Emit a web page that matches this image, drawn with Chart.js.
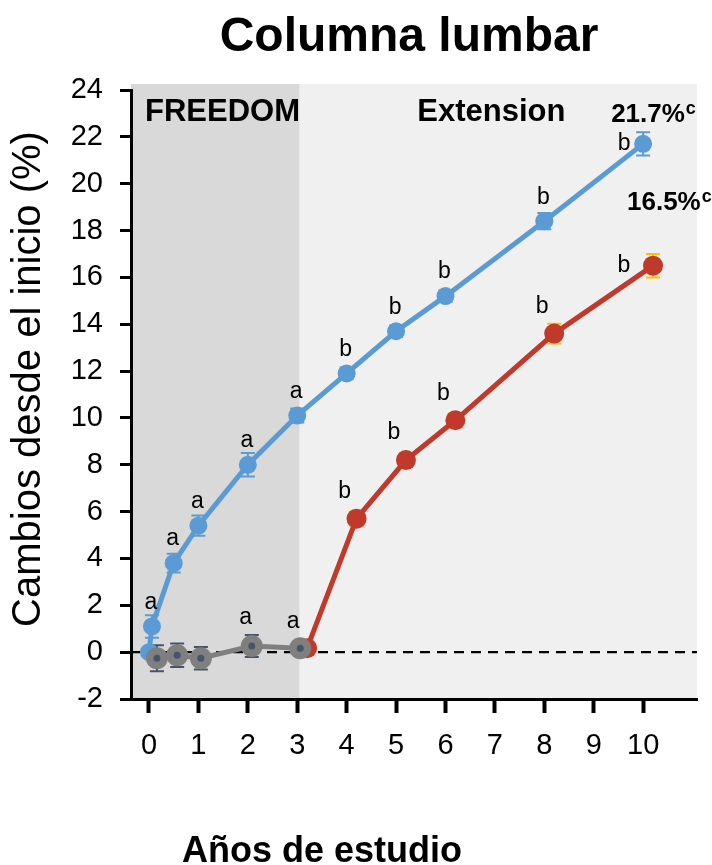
<!DOCTYPE html>
<html>
<head>
<meta charset="utf-8">
<script src="https://cdn.jsdelivr.net/npm/chart.js@4"></script>
<style>
  html, body { margin: 0; padding: 0; background: #fff; }
  #wrap { width: 712px; height: 865px; position: relative; }
</style>
</head>
<body>
<div id="wrap"><canvas id="chart"></canvas></div>
<script>
// Axis ticks
const yearTicks = [0, 1, 2, 3, 4, 5, 6, 7, 8, 9, 10];
const pctTicks = [-2, 0, 2, 4, 6, 8, 10, 12, 14, 16, 18, 20, 22, 24];

// Long-term denosumab (FREEDOM + Extension)
const longTermX = [0, 0.06, 0.5, 1, 2, 3, 4, 5, 6, 8, 10];
const longTermY = [0, 1.1, 3.8, 5.4, 8.0, 10.1, 11.9, 13.7, 15.2, 18.4, 21.7];
const longTermErr = [0, 0.48, 0.4, 0.43, 0.5, 0.3, 0.25, 0.25, 0.25, 0.35, 0.5];
const longTermLetters = ['', 'a', 'a', 'a', 'a', 'a', 'b', 'b', 'b', 'b', 'b'];

// Crossover group (starts at the Extension)
const crossoverX = [3.2, 4.2, 5.2, 6.2, 8.2, 10.2];
const crossoverY = [0.17, 5.7, 8.2, 9.9, 13.6, 16.5];
const crossoverErr = [0.1, 0.3, 0.3, 0.3, 0.42, 0.5];
const crossoverLetters = ['', 'b', 'b', 'b', 'b', 'b'];

// Placebo during FREEDOM
const placeboX = [0.16, 0.57, 1.05, 2.08, 3.06];
const placeboY = [-0.26, -0.13, -0.26, 0.26, 0.17];
const placeboErr = [0.55, 0.5, 0.48, 0.47, 0.1];
const placeboLetters = ['', '', '', 'a', 'a'];

const freedomEnd = 3.05;

const FONT = "'Liberation Sans', Arial, sans-serif";
const BLUE = '#5b9bd5', RED = '#c0392b', GREY = '#7f7f7f';

const pts = (xs, ys) => xs.map((x, i) => ({ x, y: ys[i] }));

const series = [
  { xs: placeboX, ys: placeboY, err: placeboErr, letters: placeboLetters, errColor: '#44546a', dx: -6, dy: -28, lastDx: -7, lastDy: -27 },
  { xs: longTermX, ys: longTermY, err: longTermErr, letters: longTermLetters, errColor: BLUE, dx: -1, dy: -24, lastDx: -19, lastDy: 0 },
  { xs: crossoverX, ys: crossoverY, err: crossoverErr, letters: crossoverLetters, errColor: '#ffc000', dx: -12, dy: -27, lastDx: -29, lastDy: 0 }
];

const decor = {
  id: 'decor',
  beforeDraw(chart) {
    const { ctx, chartArea: a, scales: { x } } = chart;
    const xb = x.getPixelForValue(freedomEnd);
    ctx.save();
    ctx.fillStyle = '#d9d9d9';
    ctx.fillRect(a.left, a.top - 6, xb - a.left, a.bottom - a.top + 6);
    ctx.fillStyle = '#f0f0f0';
    ctx.fillRect(xb, a.top - 6, a.right - xb, a.bottom - a.top + 6);
    ctx.restore();
  },
  beforeDatasetsDraw(chart) {
    const { ctx, chartArea: a, scales: { x, y } } = chart;
    ctx.save();
    // zero reference line
    const y0 = y.getPixelForValue(0);
    ctx.strokeStyle = '#000';
    ctx.lineWidth = 2.2;
    ctx.setLineDash([10, 7]);
    ctx.beginPath();
    ctx.moveTo(a.left, y0);
    ctx.lineTo(a.right, y0);
    ctx.stroke();
    ctx.setLineDash([]);
    // error bars
    series.forEach(s => {
      ctx.strokeStyle = s.errColor;
      ctx.lineWidth = 2;
      s.xs.forEach((xv, i) => {
        if (!s.err[i]) return;
        const px = x.getPixelForValue(xv);
        const top = y.getPixelForValue(s.ys[i] + s.err[i]);
        const bot = y.getPixelForValue(s.ys[i] - s.err[i]);
        ctx.beginPath();
        ctx.moveTo(px, top); ctx.lineTo(px, bot);
        ctx.moveTo(px - 7, top); ctx.lineTo(px + 7, top);
        ctx.moveTo(px - 7, bot); ctx.lineTo(px + 7, bot);
        ctx.stroke();
      });
    });
    ctx.restore();
  },
  afterDatasetsDraw(chart) {
    const { ctx, chartArea: a, scales: { x, y } } = chart;
    ctx.save();
    // centre dots of the placebo markers
    ctx.fillStyle = '#44546a';
    placeboX.forEach((xv, i) => {
      ctx.beginPath();
      ctx.arc(x.getPixelForValue(xv), y.getPixelForValue(placeboY[i]), 3.5, 0, Math.PI * 2);
      ctx.fill();
    });
    // significance letters
    ctx.fillStyle = '#000';
    ctx.font = `23px ${FONT}`;
    ctx.textAlign = 'center';
    ctx.textBaseline = 'middle';
    series.forEach(s => {
      const last = s.xs.length - 1;
      s.letters.forEach((t, i) => {
        if (!t) return;
        const dx = i === last ? s.lastDx : s.dx;
        const dy = i === last ? s.lastDy : s.dy;
        ctx.fillText(t, x.getPixelForValue(s.xs[i]) + dx, y.getPixelForValue(s.ys[i]) + dy);
      });
    });
    // period labels
    ctx.textAlign = 'left';
    ctx.textBaseline = 'alphabetic';
    ctx.font = `bold 31px ${FONT}`;
    ctx.fillText('FREEDOM', a.left + 14, a.top + 31);
    ctx.fillText('Extension', x.getPixelForValue(5.43), a.top + 31);
    // final change labels
    const endLabel = (xs, ys, dx, dy) => {
      const li = xs.length - 1;
      const px = x.getPixelForValue(xs[li]) + dx;
      const py = y.getPixelForValue(ys[li]) + dy;
      const txt = ys[li].toFixed(1) + '%';
      ctx.font = `bold 26px ${FONT}`;
      ctx.fillText(txt, px, py);
      const w = ctx.measureText(txt).width;
      ctx.font = `bold 18px ${FONT}`;
      ctx.fillText('c', px + w + 1, py - 8);
    };
    endLabel(longTermX, longTermY, -32, -22);
    endLabel(crossoverX, crossoverY, -26, -56);
    // chart title and axis titles
    ctx.textAlign = 'center';
    ctx.font = `bold 48px ${FONT}`;
    ctx.fillText('Columna lumbar', (a.left + a.right) / 2 - 5, 51);
    ctx.font = `bold 36px ${FONT}`;
    ctx.fillText('Años de estudio', 322, 862);
    ctx.translate(29, 379);
    ctx.rotate(-Math.PI / 2);
    ctx.textBaseline = 'middle';
    ctx.font = `40px ${FONT}`;
    ctx.fillText('Cambios desde el inicio (%)', 0, 0);
    ctx.restore();
  }
};

new Chart(document.getElementById('chart'), {
  type: 'line',
  data: {
    datasets: [
      { data: pts(placeboX, placeboY), borderColor: GREY, backgroundColor: GREY, borderWidth: 5,
        pointRadius: 11, pointBorderWidth: 0, pointBackgroundColor: GREY },
      { data: pts(longTermX, longTermY), borderColor: BLUE, backgroundColor: BLUE, borderWidth: 5,
        pointRadius: 9, pointBorderWidth: 0, pointBackgroundColor: BLUE },
      { data: pts(crossoverX, crossoverY), borderColor: RED, backgroundColor: RED, borderWidth: 5,
        pointRadius: 10, pointBorderWidth: 0, pointBackgroundColor: RED }
    ]
  },
  options: {
    responsive: true,
    maintainAspectRatio: false,
    animation: false,
    events: [],
    layout: { padding: { top: 90, right: 15, bottom: 0, left: 0 } },
    plugins: { legend: { display: false }, tooltip: { enabled: false } },
    scales: {
      x: {
        type: 'linear',
        min: -0.364,
        max: 11.09,
        afterBuildTicks: s => { s.ticks = yearTicks.map(v => ({ value: v })); },
        afterFit: s => { s.height = 166; },
        grid: { drawOnChartArea: false, drawTicks: true, tickLength: 14, tickWidth: 4, tickColor: '#000' },
        border: { display: true, color: '#000', width: 3 },
        ticks: { font: { size: 29, family: FONT }, color: '#000', padding: 16, autoSkip: false, maxRotation: 0 }
      },
      y: {
        type: 'linear',
        min: -2,
        max: 24,
        afterBuildTicks: s => { s.ticks = pctTicks.map(v => ({ value: v })); },
        afterFit: s => { s.width = 131; },
        grid: { drawOnChartArea: false, drawTicks: true, tickLength: 11, tickWidth: 3, tickColor: '#000' },
        border: { display: true, color: '#000', width: 3 },
        ticks: { font: { size: 29, family: FONT }, color: '#000', padding: 17 }
      }
    }
  },
  plugins: [decor]
});
</script>
</body>
</html>
